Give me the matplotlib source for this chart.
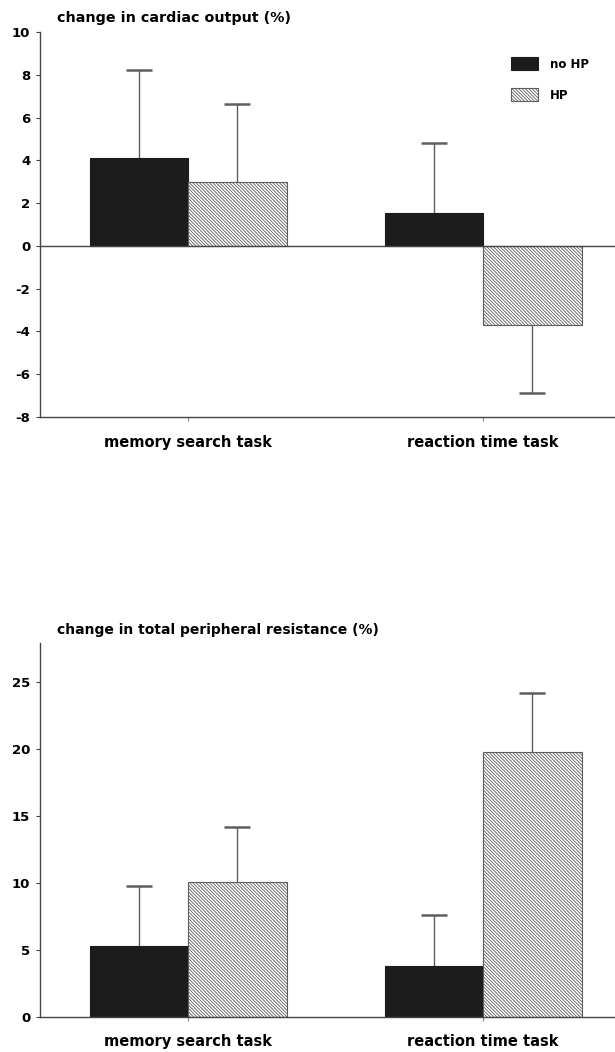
import numpy as np
import matplotlib
matplotlib.use("Agg")
import matplotlib.pyplot as plt

plt.rcParams['font.family'] = ['DejaVu Sans']
plt.rcParams['font.weight'] = 'bold'
plt.rcParams['hatch.linewidth'] = 0.6

tasks = ['memory search task', 'reaction time task']
groups = ['no HP', 'HP']

# change in cardiac output (%)
co_nohp = [4.1, 1.55]
co_hp = [3.0, -3.7]
co_err_nohp = [4.1, 3.25]
co_err_hp = [3.65, 3.2]

# change in total peripheral resistance (%)
tpr_nohp = [5.3, 3.8]
tpr_hp = [10.1, 19.8]
tpr_err_nohp = [4.5, 3.8]
tpr_err_hp = [4.1, 4.4]

co_ticks = [10, 8, 6, 4, 2, 0, -2, -4, -6, -8]
tpr_ticks = [0, 5, 10, 15, 20, 25]

dark = '#1c1c1c'
gray = '#5e5e5e'


def one_sided(vals, errs):
    lo = [e if v < 0 else 0 for v, e in zip(vals, errs)]
    hi = [0 if v < 0 else e for v, e in zip(vals, errs)]
    return [lo, hi]


def error_ends(vals, errs):
    return [v - e if v < 0 else v + e for v, e in zip(vals, errs)]


def draw_bars(ax, nohp, hp, err_nohp, err_hp):
    x = np.arange(len(tasks))
    w = 0.334
    ax.bar(x - w / 2, nohp, w, color=dark, edgecolor=dark, linewidth=0.8,
           label=groups[0], zorder=2)
    ax.bar(x + w / 2, hp, w, color='white', edgecolor=gray,
           hatch='\\' * 10, linewidth=0.8, label=groups[1], zorder=2)
    for xs, vals, errs in [(x - w / 2, nohp, err_nohp), (x + w / 2, hp, err_hp)]:
        ax.errorbar(xs, vals, yerr=one_sided(vals, errs), fmt='none',
                    ecolor=gray, elinewidth=1.0, capsize=0, zorder=1)
        ax.plot(xs, error_ends(vals, errs), ls='none', marker='_',
                markersize=19, markeredgewidth=1.8, color=gray, zorder=1)
    ax.set_xlim(-0.502, 1.447)
    ax.set_xticks(x)
    ax.set_xticklabels(tasks, fontsize=10.5, fontweight='bold')
    for s in ['top', 'right']:
        ax.spines[s].set_visible(False)
    for s in ['left', 'bottom']:
        ax.spines[s].set_color('#444444')
        ax.spines[s].set_linewidth(1.0)
    ax.tick_params(axis='x', length=3, color='#888888')
    ax.tick_params(axis='y', length=3, color='#444444', labelsize=9.5, pad=4)
    return x


fig = plt.figure(figsize=(6.15, 10.52), dpi=100)

# top panel: cardiac output
ax1 = fig.add_axes([0.065, 0.6036, 0.935, 0.366])
draw_bars(ax1, co_nohp, co_hp, co_err_nohp, co_err_hp)
ax1.set_ylim(-8, 10)
ax1.set_yticks(co_ticks)
ax1.set_yticklabels([str(t) for t in co_ticks], fontweight='bold')
ax1.tick_params(axis='x', pad=10)
ax1.axhline(0, color='#444444', linewidth=1.0, zorder=3)
ax1.text(0.03, 1.018, 'change in cardiac output (%)', transform=ax1.transAxes,
         fontsize=10.3, fontweight='bold', ha='left', va='bottom')
ax1.legend(loc='upper left', bbox_to_anchor=(0.8, 0.962), frameon=False,
           fontsize=8.5, handlelength=2.3, handleheight=1.3, labelspacing=1.5,
           handletextpad=1.0)

# bottom panel: total peripheral resistance
ax2 = fig.add_axes([0.065, 0.0333, 0.935, 0.3555])
draw_bars(ax2, tpr_nohp, tpr_hp, tpr_err_nohp, tpr_err_hp)
ax2.set_ylim(0, 27.9)
ax2.set_yticks(tpr_ticks)
ax2.set_yticklabels([str(t) for t in tpr_ticks], fontweight='bold')
ax2.tick_params(axis='x', pad=9)
ax2.text(0.03, 1.015, 'change in total peripheral resistance (%)',
         transform=ax2.transAxes, fontsize=10, fontweight='bold',
         ha='left', va='bottom')

fig.savefig('out.png', dpi=100)
